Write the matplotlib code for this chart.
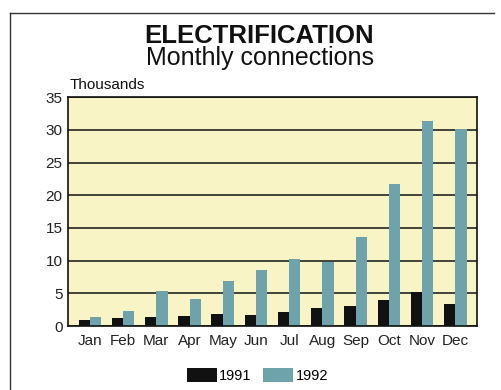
import matplotlib.pyplot as plt
from matplotlib.patches import Patch
from matplotlib.lines import Line2D
import numpy as np

plt.rcParams['font.family'] = ['Liberation Sans', 'DejaVu Sans']

# monthly connections, thousands
months = ['Jan', 'Feb', 'Mar', 'Apr', 'May', 'Jun',
          'Jul', 'Aug', 'Sep', 'Oct', 'Nov', 'Dec']
conn_1991 = [0.9, 1.2, 1.4, 1.6, 1.8, 1.7, 2.2, 2.7, 3.0, 4.0, 5.2, 3.4]
conn_1992 = [1.4, 2.3, 5.4, 4.2, 6.9, 8.6, 10.2, 9.8, 13.6, 21.7, 31.3, 30.1]
yticks = [0, 5, 10, 15, 20, 25, 30, 35]

black = '#111111'
teal = '#6fa3ac'
panel = '#f8f4c6'

fig = plt.figure(figsize=(5.02, 3.9), dpi=100)
ax = fig.add_axes([0.1355, 0.164, 0.815, 0.587])
ax.set_facecolor(panel)

x = np.arange(len(months))
w = 0.34
ax.bar(x - w / 2, conn_1991, w, color=black, zorder=3)
ax.bar(x + w / 2, conn_1992, w, color=teal, zorder=3)

ax.set_xlim(-0.66, 11.66)
ax.set_ylim(0, 35)
ax.set_yticks(yticks)
ax.set_xticks(x)
ax.set_xticklabels(months, fontsize=11)
ax.tick_params(axis='both', length=0, colors='#222222')
ax.tick_params(axis='y', labelsize=11, pad=4)
ax.tick_params(axis='x', pad=6)
ax.grid(axis='y', color=black, lw=1.1, zorder=4)
for s in ax.spines.values():
    s.set_color(black)
    s.set_linewidth(1.2)
    s.set_zorder(5)

fig.text(0.517, 0.8897, 'ELECTRIFICATION', ha='center', va='baseline',
         fontsize=18.5, fontweight='bold', color=black)
fig.text(0.517, 0.8333, 'Monthly connections', ha='center', va='baseline',
         fontsize=18, color=black)
fig.text(0.139, 0.7718, 'Thousands', ha='left', va='baseline',
         fontsize=11, color=black)

# outer frame, left and top edges
fig.add_artist(Line2D([0.02, 0.02], [0.0, 0.967], color='#333333', lw=1.0))
fig.add_artist(Line2D([0.02, 0.985], [0.967, 0.967], color='#333333', lw=1.0))

handles = [Patch(facecolor=black, label='1991'), Patch(facecolor=teal, label='1992')]
fig.legend(handles=handles, loc='center', bbox_to_anchor=(0.513, 0.037), ncol=2,
           frameon=False, fontsize=10.5, handlelength=2.05, handleheight=1.03,
           handletextpad=0.15, columnspacing=0.8)

fig.savefig('out.png', dpi=100)
